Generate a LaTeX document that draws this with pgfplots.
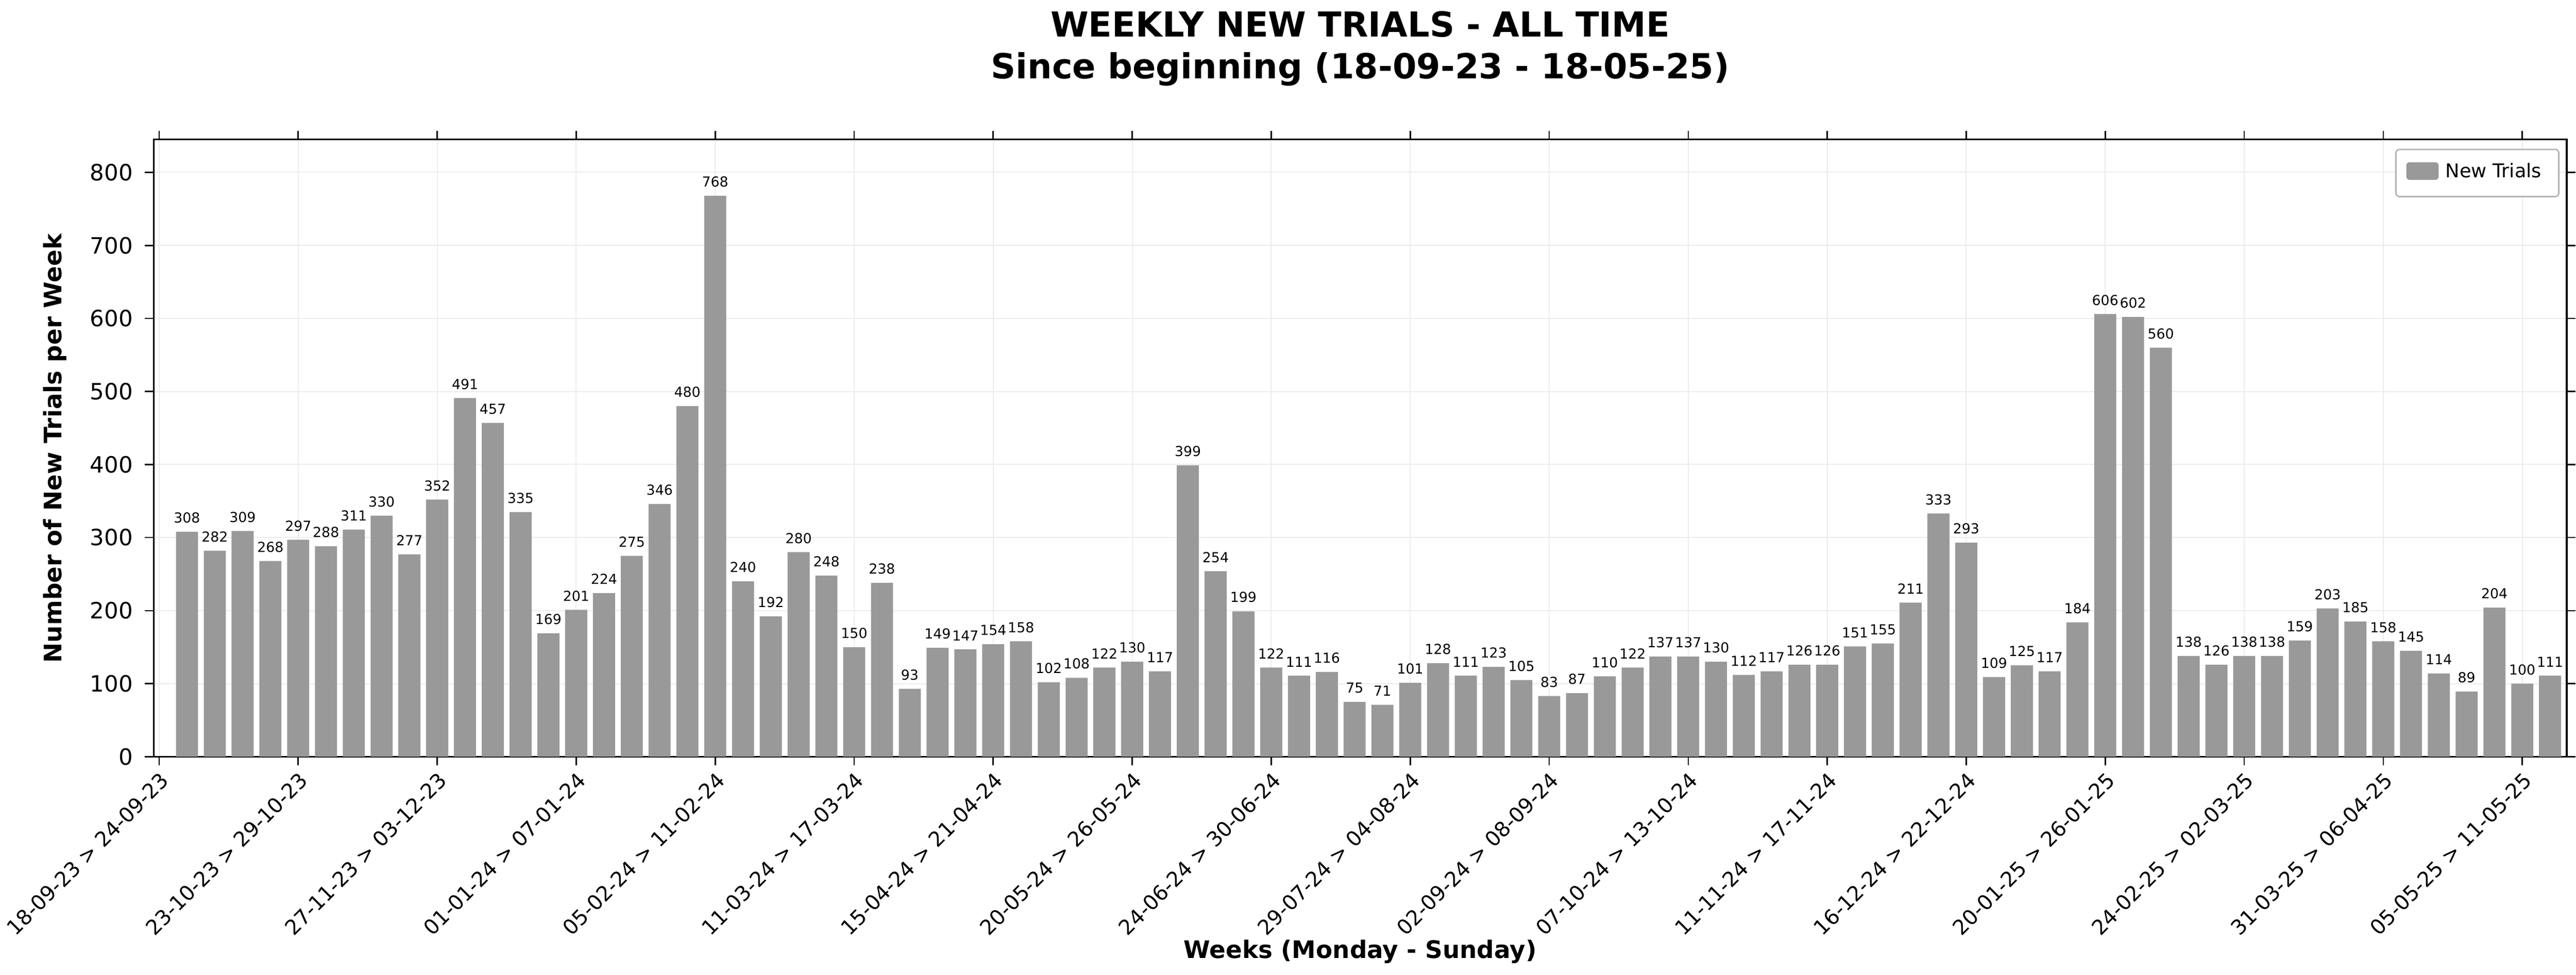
\documentclass[border=0pt]{standalone}
\usepackage{pgfplots}
\pgfplotsset{compat=1.18}
\usepackage{fontspec}
\setmainfont{DejaVu Sans}
\begin{document}
\begin{tikzpicture}
\begin{axis}[
  width=700pt, height=179pt, scale only axis,
  xmin=-0.2, xmax=86.6, ymin=0, ymax=845,
  ytick={0,100,...,800},
  xtick={0,5,...,85},
  xticklabels={18-09-23 > 24-09-23,23-10-23 > 29-10-23,27-11-23 > 03-12-23,01-01-24 > 07-01-24,05-02-24 > 11-02-24,11-03-24 > 17-03-24,15-04-24 > 21-04-24,20-05-24 > 26-05-24,24-06-24 > 30-06-24,29-07-24 > 04-08-24,02-09-24 > 08-09-24,07-10-24 > 13-10-24,11-11-24 > 17-11-24,16-12-24 > 22-12-24,20-01-25 > 26-01-25,24-02-25 > 02-03-25,31-03-25 > 06-04-25,05-05-25 > 11-05-25},
  xticklabel style={rotate=45, anchor=north east, font=\fontsize{6}{7}\selectfont, inner sep=1pt},
  yticklabel style={font=\fontsize{6.5}{8}\selectfont},
  /pgf/number format/assume math mode=true,
  grid=major, grid style={gray!15, line width=0.3pt},
  tick align=outside, tick style={black, line width=0.4pt},
  major tick length=2.5pt,
  xlabel={\textbf{Weeks (Monday - Sunday)}},
  ylabel={\textbf{Number of New Trials per Week}},
  label style={font=\fontsize{7}{9}\selectfont},
  xlabel style={yshift=4pt},
  title={\textbf{WEEKLY NEW TRIALS - ALL TIME}\\\textbf{Since beginning (18-09-23 - 18-05-25)}},
  title style={align=center, font=\fontsize{10}{12}\selectfont, yshift=6pt},
  legend style={at={(0.997,0.985)}, anchor=north east, font=\fontsize{5.5}{6.5}\selectfont, draw=gray!60, rounded corners=1pt},
  legend image code/.code={\fill[#1] (0cm,-0.07cm) rectangle (0.33cm,0.11cm);},
  axis line style={line width=0.5pt},
]
\addplot[ybar, bar width=6.4pt, fill=black!40, draw=none,
  nodes near coords, every node near coord/.append style={font=\fontsize{4}{5}\selectfont, black, yshift=-1pt},
  point meta=y]
coordinates {
(1,308)(2,282)(3,309)(4,268)(5,297)(6,288)(7,311)(8,330)(9,277)(10,352)
(11,491)(12,457)(13,335)(14,169)(15,201)(16,224)(17,275)(18,346)(19,480)(20,768)
(21,240)(22,192)(23,280)(24,248)(25,150)(26,238)(27,93)(28,149)(29,147)(30,154)
(31,158)(32,102)(33,108)(34,122)(35,130)(36,117)(37,399)(38,254)(39,199)(40,122)
(41,111)(42,116)(43,75)(44,71)(45,101)(46,128)(47,111)(48,123)(49,105)(50,83)
(51,87)(52,110)(53,122)(54,137)(55,137)(56,130)(57,112)(58,117)(59,126)(60,126)
(61,151)(62,155)(63,211)(64,333)(65,293)(66,109)(67,125)(68,117)(69,184)(70,606)
(71,602)(72,560)(73,138)(74,126)(75,138)(76,138)(77,159)(78,203)(79,185)(80,158)
(81,145)(82,114)(83,89)(84,204)(85,100)(86,111)};
\addlegendentry{New Trials}
\end{axis}
\end{tikzpicture}
\end{document}
